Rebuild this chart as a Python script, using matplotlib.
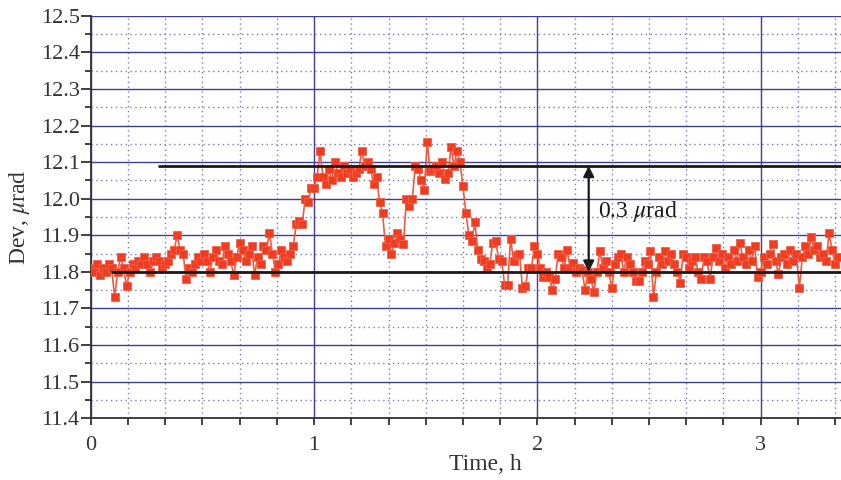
import numpy as np
import matplotlib as mpl
mpl.use('Agg')
import matplotlib.pyplot as plt

plt.rcParams['font.family'] = ['Liberation Serif', 'DejaVu Serif']
plt.rcParams['mathtext.fontset'] = 'stix'

# sampling step of the record (h)
step = 1.0 / 75

# deviation, microrad in 0.2 h blocks
dev = [
    11.81, 11.80, 11.82, 11.79, 11.81, 11.80, 11.82, 11.81, 11.73, 11.80, 11.84, 11.81, 11.76, 11.80, 11.82,
    11.81, 11.83, 11.82, 11.84, 11.82, 11.80, 11.83, 11.84, 11.83, 11.81, 11.82, 11.83, 11.85, 11.86, 11.90,
    11.86, 11.85, 11.78, 11.81, 11.80, 11.82, 11.84, 11.83, 11.85, 11.83, 11.80, 11.84, 11.86, 11.83, 11.82,
    11.87, 11.85, 11.83, 11.79, 11.84, 11.88, 11.86, 11.83, 11.85, 11.87, 11.79, 11.84, 11.82, 11.87, 11.86,
    11.905, 11.85, 11.80, 11.82, 11.86, 11.84, 11.83, 11.85, 11.87, 11.93, 11.94, 11.93, 12.00, 11.99, 12.03,
    12.03, 12.06, 12.13, 12.06, 12.04, 12.08, 12.05, 12.10, 12.07, 12.06, 12.09, 12.07, 12.08, 12.06, 12.07,
    12.08, 12.13, 12.09, 12.10, 12.08, 12.04, 12.06, 11.99, 11.96, 11.87, 11.89, 11.85, 11.88, 11.905, 11.89,
    11.875, 12.00, 11.98, 12.00, 12.09, 12.08, 12.05, 12.025, 12.155, 12.075, 12.08, 12.09, 12.07, 12.10, 12.055,
    12.07, 12.14, 12.09, 12.13, 12.10, 12.035, 11.96, 11.90, 11.885, 11.935, 11.86, 11.835, 11.83, 11.81, 11.82,
    11.88, 11.885, 11.835, 11.83, 11.765, 11.765, 11.89, 11.83, 11.845, 11.85, 11.755, 11.76, 11.81, 11.81, 11.87,
    11.85, 11.81, 11.785, 11.80, 11.785, 11.75, 11.78, 11.85, 11.84, 11.81, 11.86, 11.81, 11.825, 11.80, 11.81,
    11.805, 11.75, 11.80, 11.78, 11.745, 11.80, 11.857, 11.81, 11.83, 11.80, 11.755, 11.82, 11.84, 11.85, 11.80,
    11.84, 11.82, 11.80, 11.775, 11.775, 11.80, 11.83, 11.82, 11.857, 11.73, 11.80, 11.84, 11.82, 11.857, 11.83,
    11.85, 11.82, 11.80, 11.77, 11.85, 11.84, 11.81, 11.83, 11.84, 11.80, 11.78, 11.84, 11.83, 11.78, 11.84,
    11.865, 11.83, 11.85, 11.81, 11.84, 11.82, 11.86, 11.83, 11.88, 11.84, 11.82, 11.86, 11.83, 11.87, 11.785,
    11.80, 11.84, 11.82, 11.85, 11.875, 11.83, 11.795, 11.84, 11.85, 11.82, 11.86, 11.83, 11.85, 11.755, 11.84,
    11.87, 11.85, 11.895, 11.86, 11.87, 11.84, 11.85, 11.83, 11.905, 11.86, 11.82, 11.84,
]
t = np.arange(len(dev)) * step

# reference levels and the arrow between them
base_level = 11.80
top_level = 12.09
base_start = 0.09
top_start = 0.30
arrow_x = 2.23
span_label = r'0.3 $\mu$rad'

fig = plt.figure(figsize=(8.41, 4.80), dpi=100)
ax = fig.add_axes([0.108, 0.129, 0.892, 0.838])

ax.set_xlim(0, 3.36)
ax.set_ylim(11.4, 12.5)
ax.set_xticks([0, 1, 2, 3])
ax.set_xticks(np.arange(0, 3.36, 1 / 6), minor=True)
ax.set_yticks(np.arange(11.4, 12.51, 0.1))
ax.set_yticks(np.arange(11.45, 12.5, 0.1), minor=True)
ax.yaxis.set_major_formatter(mpl.ticker.FormatStrFormatter('%.1f'))

grid_col = '#3c3c9a'
ax.grid(which='major', color=grid_col, lw=1.0, ls='-')
ax.grid(which='minor', color='#7878c0', lw=1.0, ls=(0, (1, 2.5)))
ax.set_axisbelow(True)

for s in ['top', 'right']:
    ax.spines[s].set_visible(False)
for s in ['left', 'bottom']:
    ax.spines[s].set_color('#333333')
    ax.spines[s].set_linewidth(1.3)

ax.tick_params(axis='both', which='major', labelsize=16, colors='#333333', width=1.3)
ax.tick_params(axis='y', which='major', length=7, pad=1)
ax.tick_params(axis='y', which='minor', length=4.5, width=1.3, color='#333333')
ax.tick_params(axis='x', which='major', length=5, pad=8)
ax.tick_params(axis='x', which='minor', length=5, width=1.3, color='#333333')

ax.plot(t, dev, color='#f05a40', lw=1.2, marker='s', ms=6,
        mfc='#f03c20', mec='#f06048', mew=0.6, zorder=3)

ax.hlines(base_level, base_start, 3.36, color='#1a1a1a', lw=2.0, zorder=4)
ax.hlines(top_level, top_start, 3.36, color='#1a1a1a', lw=2.0, zorder=4)
ax.annotate('', xy=(arrow_x, base_level), xytext=(arrow_x, top_level),
            arrowprops=dict(arrowstyle='<|-|>', color='#1a1a1a', lw=1.6,
                            mutation_scale=16, shrinkA=0, shrinkB=0), zorder=5)
ax.text(arrow_x + 0.04, 11.965, span_label, fontsize=17, color='#1a1a1a',
        va='center', ha='left')

ax.set_xlabel('Time, h', fontsize=17, color='#333333')
ax.xaxis.set_label_coords(0.526, -0.09)
ax.set_ylabel(r'Dev, $\mu$rad', fontsize=17, color='#333333')
ax.yaxis.set_label_coords(-0.078, 0.5)

fig.savefig('out.png', dpi=100)
